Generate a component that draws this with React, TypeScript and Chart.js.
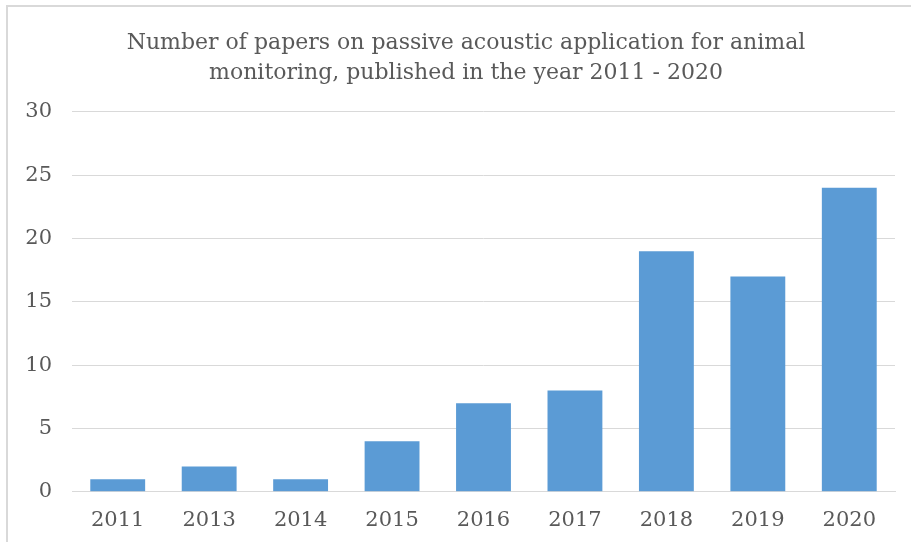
import { useEffect, useRef } from "react"
import { Chart, registerables } from "chart.js"

Chart.register(...registerables)

const years = ["2011", "2013", "2014", "2015", "2016", "2017", "2018", "2019", "2020"]
const paperCounts = [1, 2, 1, 4, 7, 8, 19, 17, 24]
const titleLines = [
  "Number of papers on passive acoustic application for animal",
  "monitoring, published in the year 2011 - 2020",
]

const FONT = "'DejaVu Serif', 'Liberation Serif', serif"

// y labels hang left of a narrow axis box; widen the box after layout so they are not clipped
const unclipYLabels = {
  id: "unclipYLabels",
  afterLayout(chart: Chart) {
    const y = chart.scales.y
    if (y) y.left = 0
  },
}

export default function App() {
  const chartRef = useRef<HTMLCanvasElement>(null)
  const chartInstance = useRef<Chart | null>(null)

  useEffect(() => {
    if (!chartRef.current) return

    if (chartInstance.current) {
      chartInstance.current.destroy()
    }

    const ctx = chartRef.current.getContext("2d")
    if (!ctx) return

    chartInstance.current = new Chart(ctx, {
      type: "bar",
      data: {
        labels: years,
        datasets: [
          {
            data: paperCounts,
            backgroundColor: "#5b9bd5",
            barPercentage: 0.6,
            categoryPercentage: 1,
          },
        ],
      },
      options: {
        animation: false,
        responsive: true,
        maintainAspectRatio: false,
        layout: {
          padding: { left: 37, right: 16, top: 28, bottom: 1 },
        },
        plugins: {
          legend: { display: false },
          tooltip: { enabled: false },
          title: {
            display: true,
            text: titleLines,
            color: "#595959",
            font: { family: FONT, size: 22, weight: "normal", lineHeight: 1.36 },
            padding: { top: 0, bottom: 24 },
          },
        },
        scales: {
          x: {
            grid: { display: false },
            border: { display: true, color: "#d9d9d9" },
            ticks: {
              color: "#595959",
              font: { family: FONT, size: 21 },
              padding: 8,
            },
          },
          y: {
            min: 0,
            max: 30,
            grid: { color: "#d9d9d9", drawTicks: false },
            border: { display: false },
            ticks: {
              stepSize: 5,
              color: "#595959",
              font: { family: FONT, size: 21 },
              padding: 20,
            },
            afterFit: (scale) => {
              scale.width = 35
            },
          },
        },
      },
      plugins: [unclipYLabels],
    })

    return () => {
      if (chartInstance.current) {
        chartInstance.current.destroy()
        chartInstance.current = null
      }
    }
  }, [])

  return (
    <div style={{ position: "fixed", left: 0, top: 0, width: 911, height: 542, background: "#fff" }}>
      <div
        style={{
          position: "absolute",
          left: 6,
          top: 5,
          right: -2,
          bottom: -2,
          borderTop: "2px solid #d9d9d9",
          borderLeft: "2px solid #d9d9d9",
        }}
      />
      <div style={{ position: "absolute", left: 0, top: 0, width: 911, height: 542 }}>
        <canvas ref={chartRef} />
      </div>
    </div>
  )
}
